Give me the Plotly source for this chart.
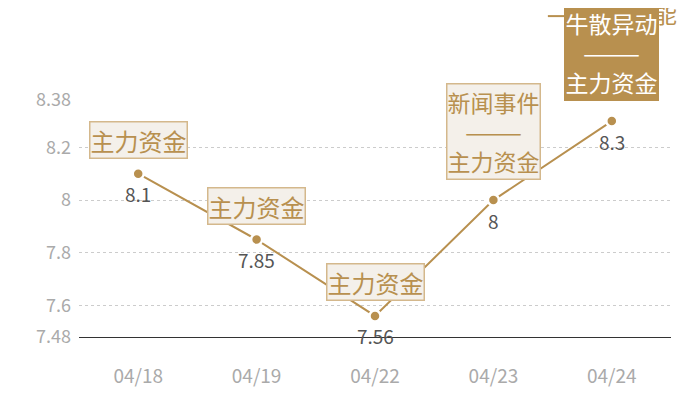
import plotly.graph_objects as go

dates = ['04/18', '04/19', '04/22', '04/23', '04/24']
prices = [8.1, 7.85, 7.56, 8.0, 8.3]
price_labels = ['8.1', '7.85', '7.56', '8', '8.3']
events = ['主力资金', '主力资金', '主力资金', '新闻事件<br>———<br>主力资金', '牛散异动<br>———<br>主力资金']
y_ticks = [7.48, 7.6, 7.8, 8, 8.2, 8.38]
y_tick_text = ['7.48', '7.6', '7.8', '8', '8.2', '8.38']
series_name = '星海智能'

gold = '#b8904f'
font_family = 'Noto Sans CJK SC'

fig = go.Figure()
fig.add_trace(go.Scatter(
    x=dates, y=prices, name=series_name,
    mode='lines+markers',
    line=dict(color=gold, width=2),
    marker=dict(color=gold, size=11, line=dict(color='white', width=2.5)),
    showlegend=False,
))

# legend drawn by hand so the last event box can sit on top of it
fig.add_shape(type='line', xref='paper', yref='paper',
              x0=0.792, x1=0.83, y0=1.354, y1=1.354,
              line=dict(color=gold, width=2))
fig.add_annotation(xref='paper', yref='paper', x=0.845, y=1.37,
                   xanchor='left', yanchor='middle', showarrow=False,
                   text=series_name, font=dict(size=24, color=gold, family=font_family))

# value labels under the points
for d, p, lab in zip(dates, prices, price_labels):
    fig.add_annotation(x=d, y=p, text=lab, showarrow=False, yshift=-20,
                       font=dict(size=19, color='#555555', family=font_family))

# event boxes above the points
for i, (d, p, ev) in enumerate(zip(dates, prices, events)):
    last = i == len(dates) - 1
    multi = '<br>' in ev
    fig.add_annotation(
        x=d, y=p, text=ev, showarrow=False,
        yanchor='middle', yshift=69 if multi else 34,
        font=dict(size=23 if multi else 24, color='white' if last else gold,
                  family=font_family),
        bgcolor=gold if last else '#f4f0ea',
        bordercolor=gold if last else '#d4b88c', borderwidth=1.5, borderpad=0,
    )

fig.update_layout(
    width=700, height=400,
    margin=dict(l=71, r=37, t=92, b=71, autoexpand=False),
    paper_bgcolor='white', plot_bgcolor='white',
    font=dict(family=font_family),
    xaxis=dict(type='category', range=[-0.5, 4.5], showgrid=False,
               showline=True, linecolor='#333333', linewidth=1, zeroline=False,
               tickfont=dict(size=19, color='#aaaaaa'), ticklabelstandoff=22),
    yaxis=dict(range=[7.48, 8.38], tickvals=y_ticks, ticktext=y_tick_text,
               showgrid=True, gridcolor='#cccccc', griddash='dot', gridwidth=1,
               zeroline=False, showline=False, ticklabelstandoff=7,
               tickfont=dict(size=18, color='#aaaaaa')),
)

fig.write_html('out.html')
